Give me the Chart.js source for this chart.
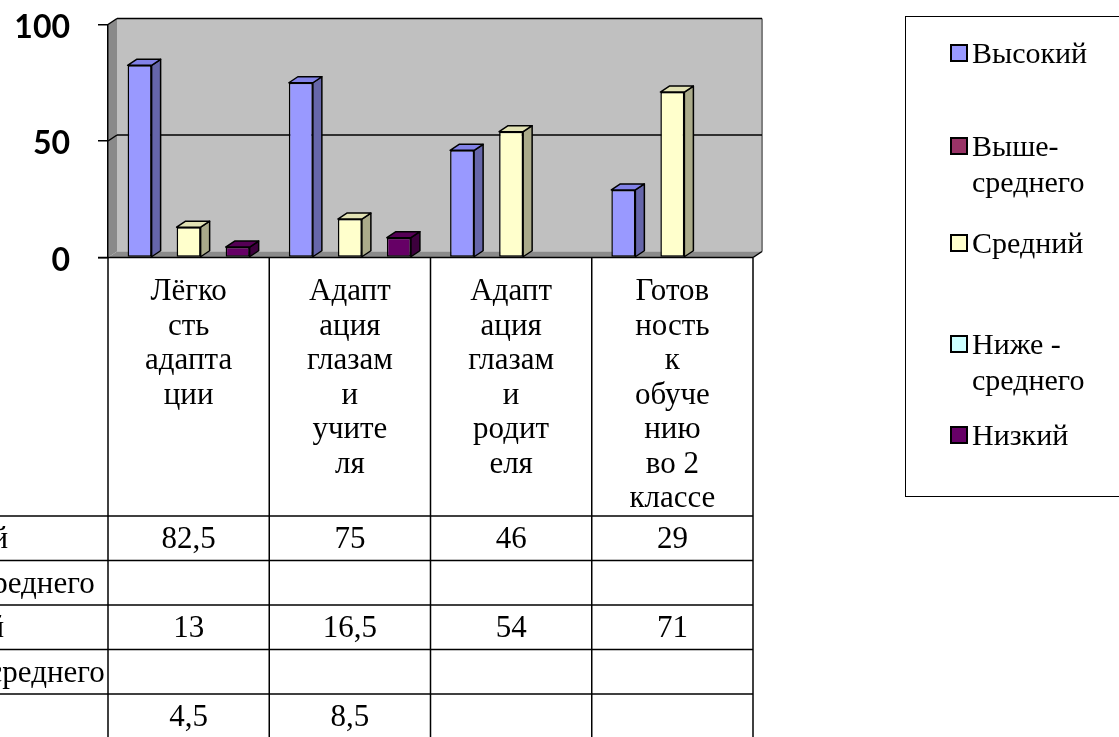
<!DOCTYPE html>
<html>
<head>
<meta charset="utf-8">
<script src="https://cdn.jsdelivr.net/npm/chart.js@4.4.1/dist/chart.umd.min.js"></script>
<style>
  html, body { margin: 0; padding: 0; background: #fff; overflow: hidden; }
  canvas { display: block; }
</style>
</head>
<body>
<canvas id="grafico" width="1119" height="737"></canvas>
<script>
// categorias (ya partidas en líneas como en la tabla)
var categorias = [
    ["Лёгко", "сть", "адапта", "ции"],
    ["Адапт", "ация", "глазам", "и", "учите", "ля"],
    ["Адапт", "ация", "глазам", "и", "родит", "еля"],
    ["Готов", "ность", "к", "обуче", "нию", "во 2", "классе"]
];
var nombresSeries = ["Высокий", "Выше-среднего", "Средний", "Ниже - среднего", "Низкий"];
var vysokiy = [82.5, 75, 46, 29];
var vysheSrednego = [null, null, null, null];
var sredniy = [13, 16.5, 54, 71];
var nizheSrednego = [null, null, null, null];
var nizkiy = [4.5, 8.5, null, null];
var ticksY = [0, 50, 100];

// colores: frente, arriba, lado
var colores = [
    ["#9999ff", "#8282e8", "#6666aa"],
    ["#993366", "#7a2952", "#5c1f3d"],
    ["#ffffcc", "#e2e2b4", "#abab8a"],
    ["#ccffff", "#b0e0e0", "#88aaaa"],
    ["#660066", "#550055", "#3d003d"]
];
var datosSeries = [vysokiy, vysheSrednego, sredniy, nizheSrednego, nizkiy];

var dx = 9, dy = -6;
var fuente = '"Liberation Serif", "Times New Roman", serif';

function poly(c, pts, fill, stroke) {
    c.beginPath();
    c.moveTo(pts[0][0], pts[0][1]);
    for (var i = 1; i < pts.length; i++) c.lineTo(pts[i][0], pts[i][1]);
    c.closePath();
    if (fill) { c.fillStyle = fill; c.fill(); }
    if (stroke) { c.strokeStyle = stroke; c.stroke(); }
}
function linea(c, x1, y1, x2, y2) {
    c.beginPath(); c.moveTo(x1, y1); c.lineTo(x2, y2); c.stroke();
}

/* PAREDES 3D */
var paredes = {
    id: 'paredes',
    beforeDraw: function (chart) {
        var c = chart.ctx, a = chart.chartArea, ys = chart.scales.y;
        var L = a.left, R = a.right, T = a.top, B = a.bottom;
        c.save();
        c.fillStyle = '#fff';
        c.fillRect(0, 0, chart.width, chart.height);
        c.fillStyle = '#c0c0c0';
        c.fillRect(L + dx, T + dy, R - L, B - T);
        poly(c, [[L, T], [L + dx, T + dy], [L + dx, B + dy], [L, B]], '#8a8a8a');
        poly(c, [[L, B], [R, B], [R + dx, B + dy], [L + dx, B + dy]], '#8a8a8a');
        c.lineWidth = 2;
        c.strokeStyle = '#808080';
        linea(c, R + dx, T + dy, R + dx, B + dy);
        c.strokeStyle = '#000';
        c.lineWidth = 1.5;
        ticksY.forEach(function (v) {
            if (v === 0) return;
            var py = ys.getPixelForValue(v);
            linea(c, L, py, L + dx, py + dy);
            linea(c, L + dx, py + dy, R + dx, py + dy);
        });
        linea(c, R, B, R + dx, B + dy);
        c.restore();
    }
};

/* BARRAS 3D: lado y tapa */
var barras3d = {
    id: 'barras3d',
    afterDatasetsDraw: function (chart) {
        var c = chart.ctx;
        c.save();
        c.lineWidth = 1.5;
        c.lineJoin = 'round';
        chart.data.datasets.forEach(function (ds, i) {
            var meta = chart.getDatasetMeta(i);
            if (meta.hidden || ds.hidden) return;
            meta.data.forEach(function (bar, j) {
                if (ds.data[j] === null) return;
                var l = bar.x - bar.width / 2, r = bar.x + bar.width / 2;
                poly(c, [[r, bar.y], [r + dx, bar.y + dy], [r + dx, bar.base + dy], [r, bar.base]], ds.colorLado, '#000');
                poly(c, [[l, bar.y], [l + dx, bar.y + dy], [r + dx, bar.y + dy], [r, bar.y]], ds.colorTapa, '#000');
            });
        });
        c.restore();
    }
};

/* TABLA DE DATOS */
var tabla = {
    id: 'tabla',
    afterDraw: function (chart) {
        var c = chart.ctx, a = chart.chartArea, xs = chart.scales.x;
        var n = categorias.length, w = (a.right - a.left) / n;
        var filaTop = 516, filaAlto = 44.5;
        c.save();
        c.strokeStyle = '#000';
        c.lineWidth = 1.5;
        for (var i = 0; i <= n; i++) {
            linea(c, a.left + i * w, a.bottom, a.left + i * w, chart.height);
        }
        linea(c, a.left - 10, a.bottom, a.right, a.bottom);
        for (var r = 0; r <= nombresSeries.length; r++) {
            linea(c, 0, filaTop + r * filaAlto, a.right, filaTop + r * filaAlto);
        }
        c.fillStyle = '#000';
        c.font = '31px ' + fuente;
        c.textAlign = 'center';
        c.textBaseline = 'alphabetic';
        categorias.forEach(function (lab, i) {
            var cx = xs.getPixelForValue(i);
            lab.forEach(function (t, k) { c.fillText(t, cx, 300 + k * 34.5); });
        });
        nombresSeries.forEach(function (nombre, r) {
            var by = filaTop + r * filaAlto + 32;
            c.textAlign = 'left';
            c.fillText(nombre, -111, by);
            c.textAlign = 'center';
            datosSeries[r].forEach(function (v, i) {
                if (v !== null) c.fillText(String(v).replace('.', ','), xs.getPixelForValue(i), by);
            });
        });
        c.restore();
    }
};

/* LEYENDA */
var leyenda = {
    id: 'leyenda',
    afterDraw: function (chart) {
        var c = chart.ctx;
        var posY = [52, 145, 242, 343, 434];
        c.save();
        c.strokeStyle = '#000';
        c.lineWidth = 1;
        c.strokeRect(905.5, 16.5, 230, 480);
        c.font = '30px ' + fuente;
        c.textAlign = 'left';
        c.textBaseline = 'alphabetic';
        nombresSeries.forEach(function (nombre, i) {
            var y = posY[i];
            c.lineWidth = 2;
            c.fillStyle = colores[i][0];
            c.fillRect(951, y - 7, 16, 16);
            c.strokeRect(951, y - 7, 16, 16);
            c.fillStyle = '#000';
            nombre.split(/(?<=-)\s*/).forEach(function (t, k) {
                c.fillText(t, 972, y + 11 + k * 36);
            });
        });
        c.restore();
    }
};

var datasets = datosSeries.map(function (d, i) {
    return {
        label: nombresSeries[i],
        data: d,
        backgroundColor: colores[i][0],
        colorTapa: colores[i][1],
        colorLado: colores[i][2],
        borderColor: '#000',
        borderWidth: 1.5,
        borderSkipped: false,
        hidden: d.every(function (v) { return v === null; })
    };
});

var ctx = document.getElementById("grafico").getContext("2d");
var grafico = new Chart(ctx, {
    type: 'bar',
    data: { labels: categorias, datasets: datasets },
    plugins: [paredes, barras3d, tabla, leyenda],
    options: {
        responsive: false,
        animation: false,
        layout: { padding: { top: 24.5, bottom: 479.5, left: 0, right: 366 } },
        categoryPercentage: 0.912,
        barPercentage: 0.49,
        plugins: { legend: { display: false }, tooltip: { enabled: false } },
        scales: {
            x: { display: false },
            y: {
                min: 0, max: 100,
                afterFit: function (s) { s.width = 108; s.paddingTop = 0; s.paddingBottom = 0; },
                ticks: {
                    stepSize: 50,
                    color: '#000',
                    padding: 28,
                    labelOffset: 3,
                    font: { family: 'Lato', weight: 'bold', size: 32 }
                },
                grid: { drawOnChartArea: false, drawTicks: true, tickLength: 10, color: '#000', lineWidth: 1.5 },
                border: { display: true, color: '#000', width: 1.5 }
            }
        }
    }
});
</script>
</body>
</html>
